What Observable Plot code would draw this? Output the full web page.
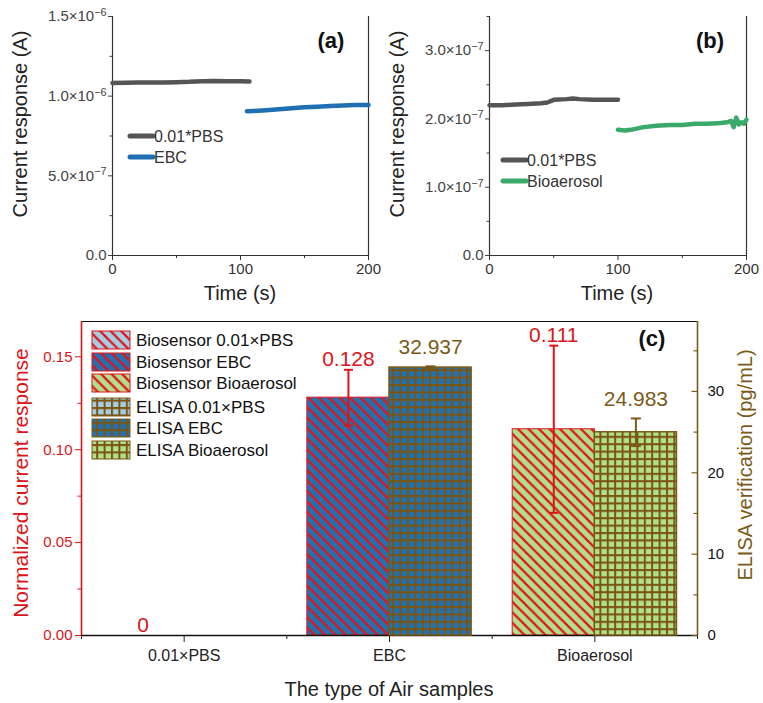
<!DOCTYPE html>
<html><head><meta charset="utf-8">
<script src="https://cdn.jsdelivr.net/npm/d3@7"></script>
<script src="https://cdn.jsdelivr.net/npm/@observablehq/plot@0.6"></script>
<style>
body{margin:0;background:#fff;font-family:"Liberation Sans",Arial,sans-serif;}
#wrap{position:relative;width:763px;height:703px;overflow:hidden;background:#fff;}
.panel{position:absolute;}
#ann{position:absolute;left:0;top:0;pointer-events:none;}
</style></head>
<body>
<svg width="0" height="0" style="position:absolute">
<defs>
 <pattern id="bio0" patternUnits="userSpaceOnUse" width="10.5" height="10.5">
  <rect width="10.5" height="10.5" fill="#a6cee3"/>
  <path d="M-2,-2L12.5,12.5M-2,8.5L2,12.5M8.5,-2L12.5,2" stroke="#e0141c" stroke-width="2.2"/>
 </pattern>
 <pattern id="bio1" patternUnits="userSpaceOnUse" width="10.5" height="10.5">
  <rect width="10.5" height="10.5" fill="#2272b2"/>
  <path d="M-2,-2L12.5,12.5M-2,8.5L2,12.5M8.5,-2L12.5,2" stroke="#e0141c" stroke-width="2.2"/>
 </pattern>
 <pattern id="bio2" patternUnits="userSpaceOnUse" width="10.5" height="10.5">
  <rect width="10.5" height="10.5" fill="#b2df8a"/>
  <path d="M-2,-2L12.5,12.5M-2,8.5L2,12.5M8.5,-2L12.5,2" stroke="#e0141c" stroke-width="2.2"/>
 </pattern>
 <pattern id="eli0" patternUnits="userSpaceOnUse" width="7.4" height="7.4">
  <rect width="7.4" height="7.4" fill="#a6cee3"/>
  <path d="M1,0V7.4M0,1H7.4" stroke="#7a5512" stroke-width="2"/>
 </pattern>
 <pattern id="eli1" patternUnits="userSpaceOnUse" width="7.4" height="7.4">
  <rect width="7.4" height="7.4" fill="#2272b2"/>
  <path d="M1,0V7.4M0,1H7.4" stroke="#7a5512" stroke-width="2"/>
 </pattern>
 <pattern id="eli2" patternUnits="userSpaceOnUse" width="7.4" height="7.4">
  <rect width="7.4" height="7.4" fill="#b2df8a"/>
  <path d="M1,0V7.4M0,1H7.4" stroke="#7a5512" stroke-width="2"/>
 </pattern>
</defs>
</svg>
<div id="wrap">
 <div class="panel" id="pa" style="left:0;top:0"></div>
 <div class="panel" id="pb" style="left:380px;top:0"></div>
 <div class="panel" id="pc1" style="left:0;top:310px"></div>
 <div class="panel" id="pc2" style="left:0;top:310px"></div>
 <svg id="ann" width="763" height="703"></svg>
</div>
<script>
// ---------- data ----------
// panel (a)
const timeA_PBS = [0, 10, 20, 30, 40, 50, 60, 70, 80, 90, 100, 107];
const currA_PBS = [1.083e-6, 1.084e-6, 1.085e-6, 1.086e-6, 1.086e-6, 1.088e-6, 1.090e-6, 1.094e-6, 1.095e-6, 1.094e-6, 1.093e-6, 1.092e-6];
const timeA_EBC = [105, 110, 120, 130, 140, 150, 160, 170, 180, 190, 200];
const currA_EBC = [0.905e-6, 0.907e-6, 0.912e-6, 0.918e-6, 0.924e-6, 0.930e-6, 0.934e-6, 0.938e-6, 0.942e-6, 0.944e-6, 0.945e-6];
// panel (b)
const timeB_PBS = [0, 10, 20, 30, 40, 45, 50, 60, 65, 70, 80, 90, 100];
const currB_PBS = [2.20e-7, 2.20e-7, 2.21e-7, 2.22e-7, 2.23e-7, 2.24e-7, 2.28e-7, 2.29e-7, 2.30e-7, 2.29e-7, 2.28e-7, 2.28e-7, 2.28e-7];
const timeB_Bio = [100, 105, 110, 120, 130, 140, 150, 160, 170, 180, 185, 188, 190, 192, 194, 196, 198, 200];
const currB_Bio = [1.84e-7, 1.83e-7, 1.84e-7, 1.88e-7, 1.90e-7, 1.91e-7, 1.91e-7, 1.93e-7, 1.93e-7, 1.94e-7, 1.95e-7, 1.97e-7, 1.88e-7, 2.02e-7, 1.92e-7, 1.95e-7, 1.93e-7, 1.99e-7];
// panel (c)
const categories = ["0.01×PBS", "EBC", "Bioaerosol"];
const biosensorMean = [0, 0.128, 0.111];
const biosensorErr = [0, 0.015, 0.045];
const biosensorLabels = ["0", "0.128", "0.111"];
const elisaMean = [0, 32.937, 24.983];
const elisaErr = [0, 0.15, 1.7];
const elisaLabels = ["", "32.937", "24.983"];
const legendNames = ["Biosensor 0.01×PBS", "Biosensor EBC", "Biosensor Bioaerosol", "ELISA 0.01×PBS", "ELISA EBC", "ELISA Bioaerosol"];

// ---------- styles ----------
const RED = "#dc1419", BROWN = "#7b5a17", GRAYL = "#555555", BLUEL = "#1f6fb2", GREENL = "#3aa96c";
const FONT = "'Liberation Sans', Arial, Helvetica, sans-serif";
function sci(v){
  if (v === 0) return "0.0";
  const e = Math.floor(Math.log10(v) + 1e-9);
  const m = v / Math.pow(10, e);
  return m.toFixed(1) + "×10^" + e;
}
function fixSup(svg){
  d3.select(svg).selectAll("text").each(function(){
    const s = this.textContent;
    const k = s.indexOf("^");
    if (k < 0) return;
    const base = s.slice(0, k), ex = s.slice(k + 1);
    this.textContent = base;
    d3.select(this).append("tspan").attr("dy", "-0.5em").attr("font-size", "0.72em").text(ex.replace("-", "−"));
  });
  return svg;
}
const hline = {draw(ctx, size){ const r = Math.sqrt(size / Math.PI); ctx.moveTo(-r, 0); ctx.lineTo(r, 0); }};

function timePlot(series, yMax, yTicks, yMinor, width, mL, mR){
  return fixSup(Plot.plot({
    width, height: 310, marginLeft: mL, marginRight: mR, marginTop: 16, marginBottom: 55,
    style: `background:transparent;font-family:${FONT};font-size:15px;color:#333;overflow:visible;`,
    x: {domain: [0, 200]}, y: {domain: [0, yMax]},
    marks: [
      Plot.ruleX([0, 200], {stroke: "#333", strokeWidth: 1.2}),
      Plot.ruleY([0], {stroke: "#333", strokeWidth: 1.2}),
      ...series.map(s => Plot.line(s.t.map((t, i) => ({t, c: s.c[i]})), {x: "t", y: "c", stroke: s.color, strokeWidth: 4.5})),
      Plot.axisX([0, 100, 200], {tickSize: 5, tickPadding: 3, label: null, fontSize: 15, color: "#333"}),
      Plot.axisX([50, 150], {tickSize: 3, tickFormat: () => "", label: null, color: "#333"}),
      Plot.axisY(yTicks, {tickSize: 4, tickPadding: 2, tickFormat: sci, label: null, fontSize: 15, color: "#444"}),
      Plot.axisY(yMinor, {tickSize: 2.5, tickFormat: () => "", label: null, color: "#444"})
    ]
  }));
}

document.getElementById("pa").append(timePlot(
  [{t: timeA_PBS, c: currA_PBS, color: GRAYL}, {t: timeA_EBC, c: currA_EBC, color: BLUEL}],
  1.5e-6, [0, 5e-7, 1e-6, 1.5e-6], [2.5e-7, 7.5e-7, 1.25e-6], 380, 112, 12));
document.getElementById("pb").append(timePlot(
  [{t: timeB_PBS, c: currB_PBS, color: GRAYL}, {t: timeB_Bio, c: currB_Bio, color: GREENL}],
  3.5e-7, [0, 1e-7, 2e-7, 3e-7], [0.5e-7, 1.5e-7, 2.5e-7, 3.5e-7], 383, 109, 17));

// ---------- panel (c) ----------
const bioRows = categories.map((c, i) => ({i, cat: c, v: biosensorMean[i], e: biosensorErr[i], lab: biosensorLabels[i]}));
const eliRows = categories.map((c, i) => ({i, cat: c, v: elisaMean[i], e: elisaErr[i], lab: elisaLabels[i]}));
const yMaxL = 0.169, yMaxR = 38.6;
const BW = 0.4;
const cCommon = {
  width: 763, height: 393, marginLeft: 81, marginRight: 66, marginTop: 11, marginBottom: 68,
  style: `background:transparent;font-family:${FONT};font-size:15px;color:#222;overflow:visible;`,
  x: {domain: [-0.5, 2.5]}
};
const c1 = Plot.plot({
  ...cCommon,
  y: {domain: [0, yMaxL]},
  marks: [
    ...categories.map((c, k) => Plot.rect(bioRows.filter(d => d.i === k && d.v > 0), {
      x1: d => d.i - BW, x2: d => d.i, y1: 0, y2: "v", fill: `url(#bio${k})`, stroke: RED, strokeWidth: 1})),
    Plot.ruleX(bioRows.filter(d => d.e > 0), {x: d => d.i - BW / 2, y1: d => d.v - d.e, y2: d => d.v + d.e, stroke: RED, strokeWidth: 2}),
    Plot.dot(bioRows.filter(d => d.e > 0), {x: d => d.i - BW / 2, y: d => d.v + d.e, symbol: hline, r: 4.5, fill: "none", stroke: RED, strokeWidth: 2}),
    Plot.dot(bioRows.filter(d => d.e > 0), {x: d => d.i - BW / 2, y: d => d.v - d.e, symbol: hline, r: 4.5, fill: "none", stroke: RED, strokeWidth: 2}),
    Plot.text(bioRows, {x: d => d.i - BW / 2, y: d => d.v + d.e, text: "lab", lineAnchor: "bottom", dy: -4, fill: RED, fontSize: 21}),
    Plot.ruleY([yMaxL], {stroke: "#111", strokeWidth: 1.2}),
    Plot.ruleY([0], {stroke: "#111", strokeWidth: 1.5}),
    Plot.ruleX([-0.5], {stroke: RED, strokeWidth: 1.6}),
    Plot.axisX([0, 1, 2], {tickSize: 7, tickPadding: 7, tickFormat: i => categories[i], label: null, fontSize: 16, color: "#222"}),
    Plot.axisX([-0.5, 0.5, 1.5, 2.5], {tickSize: 4, tickFormat: () => "", label: null, color: "#222"}),
    Plot.axisY([0, 0.05, 0.1, 0.15], {tickSize: 6, tickPadding: 3, tickFormat: d3.format(".2f"), label: null, fontSize: 15, color: RED}),
    Plot.axisY([0.025, 0.075, 0.125], {tickSize: 3.5, tickFormat: () => "", label: null, color: RED})
  ]
});
document.getElementById("pc1").append(c1);

const c2 = Plot.plot({
  ...cCommon,
  x: {domain: [-0.5, 2.5], axis: null},
  y: {domain: [0, yMaxR]},
  marks: [
    ...categories.map((c, k) => Plot.rect(eliRows.filter(d => d.i === k && d.v > 0), {
      x1: d => d.i, x2: d => d.i + BW, y1: 0, y2: "v", fill: `url(#eli${k})`, stroke: BROWN, strokeWidth: 1.5})),
    Plot.ruleX(eliRows.filter(d => d.e > 0), {x: d => d.i + BW / 2, y1: d => d.v - d.e, y2: d => d.v + d.e, stroke: BROWN, strokeWidth: 2}),
    Plot.dot(eliRows.filter(d => d.e > 0), {x: d => d.i + BW / 2, y: d => d.v + d.e, symbol: hline, r: 5, fill: "none", stroke: BROWN, strokeWidth: 2}),
    Plot.dot(eliRows.filter(d => d.e > 0), {x: d => d.i + BW / 2, y: d => d.v - d.e, symbol: hline, r: 5, fill: "none", stroke: BROWN, strokeWidth: 2}),
    Plot.text(eliRows.filter(d => d.lab), {x: d => d.i + BW / 2, y: d => d.v + d.e, text: "lab", lineAnchor: "bottom", dy: -12, fill: BROWN, fontSize: 21}),
    Plot.ruleX([2.5], {stroke: BROWN, strokeWidth: 1.6}),
    Plot.axisY([0, 10, 20, 30], {anchor: "right", tickSize: 0, tickPadding: 10, label: null, fontSize: 15, fill: "#111", stroke: "none"}),
    Plot.dot([0, 10, 20, 30], {x: 2.5, y: d => d, symbol: hline, r: 3, dx: -3, fill: "none", stroke: BROWN, strokeWidth: 1.2}),
    Plot.dot([5, 15, 25, 35], {x: 2.5, y: d => d, symbol: hline, r: 2, dx: -2, fill: "none", stroke: BROWN, strokeWidth: 1.2})
  ]
});
document.getElementById("pc2").append(c2);

// ---------- annotations (titles, panel tags, legends) ----------
const ann = d3.select("#ann").style("font-family", FONT);
function txt(x, y, s, o = {}){
  const t = ann.append("text").attr("x", x).attr("y", y).text(s)
    .attr("font-size", o.size || 16).attr("fill", o.fill || "#222")
    .attr("text-anchor", o.anchor || "middle")
    .attr("dominant-baseline", o.base || "auto");
  if (o.bold) t.attr("font-weight", "bold");
  if (o.rot) t.attr("transform", `rotate(${o.rot},${x},${y})`);
  return t;
}
// panel (a)
txt(20, 124, "Current response (A)", {size: 20, rot: -90, base: "central"});
txt(240, 300, "Time (s)", {size: 20});
txt(331, 48, "(a)", {size: 22, bold: true, fill: "#111"});
// panel (b)
txt(397, 124, "Current response (A)", {size: 20, rot: -90, base: "central"});
txt(617, 300, "Time (s)", {size: 20});
txt(710, 48, "(b)", {size: 22, bold: true, fill: "#111"});
// legends (a),(b)
const legAB = [
  {x: 130, y: 136, color: GRAYL, name: "0.01*PBS"},
  {x: 130, y: 157, color: BLUEL, name: "EBC"},
  {x: 503, y: 160, color: GRAYL, name: "0.01*PBS"},
  {x: 503, y: 181, color: GREENL, name: "Bioaerosol"}
];
legAB.forEach(l => {
  ann.append("line").attr("x1", l.x).attr("x2", l.x + 23).attr("y1", l.y).attr("y2", l.y)
    .attr("stroke", l.color).attr("stroke-width", 5).attr("stroke-linecap", "round");
  txt(l.x + 24, l.y, l.name, {size: 16, anchor: "start", base: "central", fill: "#333"});
});
// panel (c)
txt(20, 483, "Normalized current response", {size: 21, rot: -90, base: "central", fill: RED});
txt(745, 465, "ELISA verification (pg/mL)", {size: 20, rot: -90, base: "central", fill: BROWN});
txt(389, 696, "The type of Air samples", {size: 20});
txt(652, 346, "(c)", {size: 22, bold: true, fill: "#111"});
const legC = [340, 362, 383, 407, 428, 450];
const legFill = ["bio0", "bio1", "bio2", "eli0", "eli1", "eli2"];
legendNames.forEach((n, k) => {
  ann.append("rect").attr("x", 92).attr("y", legC[k] - 9).attr("width", 38).attr("height", 18)
    .attr("fill", `url(#${legFill[k]})`).attr("stroke", k < 3 ? RED : BROWN).attr("stroke-width", 1);
  txt(136, legC[k], n, {size: 17, anchor: "start", base: "central", fill: "#111"});
});
</script>
</body></html>
